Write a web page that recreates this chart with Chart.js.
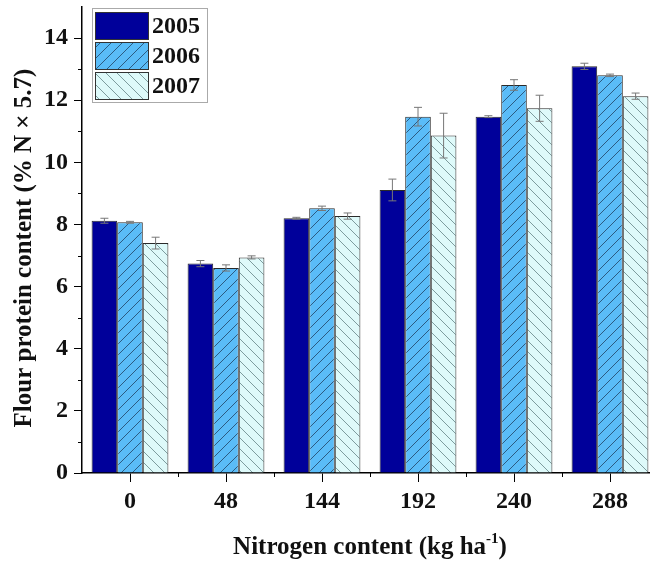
<!DOCTYPE html>
<html>
<head>
<meta charset="utf-8">
<script src="https://cdn.jsdelivr.net/npm/chart.js@4.4.1/dist/chart.umd.min.js"></script>
<style>
    html, body { margin: 0; padding: 0; background: #fff; overflow: hidden; }
    #wrap { width: 660px; height: 561px; }
</style>
</head>
<body>
<div id="wrap"><canvas id="protein_chart"></canvas></div>
<script>
var nitrogenLevels = ['0', '48', '144', '192', '240', '288']
var yearLabels = ['2005', '2006', '2007']

var protein2005 = [8.12, 6.74, 8.20, 9.11, 11.47, 13.09]
var protein2006 = [8.07, 6.60, 8.52, 11.47, 12.49, 12.80]
var protein2007 = [7.40, 6.94, 8.27, 10.86, 11.74, 12.13]

var err2005 = [0.08, 0.10, 0.03, 0.35, 0.03, 0.10]
var err2006 = [0.03, 0.10, 0.07, 0.30, 0.17, 0.04]
var err2007 = [0.19, 0.05, 0.10, 0.72, 0.42, 0.10]

var yTicks = [0, 2, 4, 6, 8, 10, 12, 14]

var serif = '"Liberation Serif", "Times New Roman", serif'
var ctx = document.getElementById('protein_chart').getContext('2d')

// diagonal hatch tile, dir > 0 draws '/', otherwise '\'
function makeHatch(bg, line, dir) {
    var size = 11
    var c = document.createElement('canvas')
    c.width = size
    c.height = size
    var g = c.getContext('2d')
    g.fillStyle = bg
    g.fillRect(0, 0, size, size)
    g.strokeStyle = line
    g.lineWidth = 1
    g.beginPath()
    if (dir > 0) {
        g.moveTo(-1, size + 1); g.lineTo(size + 1, -1)
        g.moveTo(-1, 1); g.lineTo(1, -1)
        g.moveTo(size - 1, size + 1); g.lineTo(size + 1, size - 1)
    } else {
        g.moveTo(-1, -1); g.lineTo(size + 1, size + 1)
        g.moveTo(size - 1, -1); g.lineTo(size + 1, 1)
        g.moveTo(-1, size - 1); g.lineTo(1, size + 1)
    }
    g.stroke()
    return ctx.createPattern(c, 'repeat')
}

var fill2005 = '#00009a'
var fill2006 = makeHatch('#5abcf8', '#2c5b82', 1)
var fill2007 = makeHatch('#defafa', '#7d9c9e', -1)

var errorBars = {
    id: 'errorBars',
    afterDatasetsDraw: function (chart) {
        var yScale = chart.scales.y
        var g = chart.ctx
        g.save()
        g.strokeStyle = '#777'
        g.lineWidth = 1
        chart.data.datasets.forEach(function (ds, i) {
            var meta = chart.getDatasetMeta(i)
            meta.data.forEach(function (bar, j) {
                var v = ds.data[j]
                var e = ds.errors[j]
                var top = yScale.getPixelForValue(v + e)
                var bot = yScale.getPixelForValue(v - e)
                g.beginPath()
                g.moveTo(bar.x, top); g.lineTo(bar.x, bot)
                g.moveTo(bar.x - 4, top); g.lineTo(bar.x + 4, top)
                g.moveTo(bar.x - 4, bot); g.lineTo(bar.x + 4, bot)
                g.stroke()
            })
        })
        g.restore()
    }
}

// minor ticks and the two axis titles
var axisExtras = {
    id: 'axisExtras',
    afterDraw: function (chart) {
        var area = chart.chartArea
        var yScale = chart.scales.y
        var g = chart.ctx
        g.save()
        g.strokeStyle = '#000'
        g.lineWidth = 1
        g.beginPath()
        for (var v = 1; v < 15; v += 2) {
            var py = Math.round(yScale.getPixelForValue(v)) + 0.5
            g.moveTo(area.left - 4, py); g.lineTo(area.left, py)
        }
        var step = (area.right - area.left) / nitrogenLevels.length
        for (var i = 1; i < nitrogenLevels.length; i++) {
            var px = Math.round(area.left + i * step) + 0.5
            g.moveTo(px, area.bottom); g.lineTo(px, area.bottom + 4)
        }
        g.stroke()

        g.fillStyle = '#111'

        // y title, rotated
        g.save()
        g.translate(25, 248)
        g.rotate(-Math.PI / 2)
        g.font = 'bold 25px ' + serif
        g.textAlign = 'center'
        g.textBaseline = 'middle'
        g.fillText('Flour protein content (% N \u00d7 5.7)', 0, 0)
        g.restore()

        // x title with superscript
        var main = 'Nitrogen content (kg ha'
        var sup = '-1'
        var tail = ')'
        g.textAlign = 'left'
        g.textBaseline = 'alphabetic'
        g.font = 'bold 25px ' + serif
        var w1 = g.measureText(main).width
        var w3 = g.measureText(tail).width
        g.font = 'bold 15px ' + serif
        var w2 = g.measureText(sup).width
        var x0 = (area.left + area.right) / 2 - (w1 + w2 + w3) / 2
        var base = 554
        g.font = 'bold 25px ' + serif
        g.fillText(main, x0, base)
        g.fillText(tail, x0 + w1 + w2, base)
        g.font = 'bold 15px ' + serif
        g.fillText(sup, x0 + w1, base - 11)
        g.restore()
    }
}

var boxLegend = {
    id: 'boxLegend',
    afterDraw: function (chart) {
        var g = chart.ctx
        g.save()
        g.fillStyle = '#fff'
        g.fillRect(92, 8, 115, 94)
        g.strokeStyle = '#aaa'
        g.lineWidth = 1
        g.strokeRect(92.5, 8.5, 115, 94)
        var rows = [12, 42, 72]
        chart.data.datasets.forEach(function (ds, i) {
            var y = rows[i]
            g.fillStyle = ds.backgroundColor
            g.fillRect(95, y, 53, 27)
            g.strokeStyle = '#333'
            g.strokeRect(95.5, y + 0.5, 53, 27)
            g.fillStyle = '#111'
            g.font = 'bold 24px ' + serif
            g.textBaseline = 'middle'
            g.textAlign = 'left'
            g.fillText(ds.label, 152, y + 15)
        })
        g.restore()
    }
}

function makeSet(label, data, errors, fill) {
    return {
        label: label,
        data: data,
        errors: errors,
        backgroundColor: fill,
        borderColor: '#2a2a2a',
        borderWidth: 1,
        borderSkipped: 'bottom',
        categoryPercentage: 0.8,
        barPercentage: 1.0
    }
}

var chart = new Chart(ctx, {
    type: 'bar',
    data: {
        labels: nitrogenLevels,
        datasets: [
            makeSet(yearLabels[0], protein2005, err2005, fill2005),
            makeSet(yearLabels[1], protein2006, err2006, fill2006),
            makeSet(yearLabels[2], protein2007, err2007, fill2007)
        ]
    },
    options: {
        responsive: true,
        maintainAspectRatio: false,
        animation: false,
        layout: { padding: { top: 7, right: 2, left: 0, bottom: 0 } },
        plugins: {
            legend: { display: false },
            tooltip: { enabled: false }
        },
        scales: {
            x: {
                offset: true,
                grid: { display: true, offset: false, drawOnChartArea: false, tickLength: 9, color: '#000', lineWidth: 1 },
                border: { color: '#000', width: 1.5 },
                ticks: { color: '#111', padding: 5, font: { family: serif, weight: 'bold', size: 24 } },
                afterFit: function (scale) {
                    scale.height = 88
                    scale.paddingLeft = 0
                    scale.paddingRight = 0
                }
            },
            y: {
                min: 0,
                max: 15,
                afterBuildTicks: function (scale) {
                    scale.ticks = yTicks.map(function (v) { return { value: v } })
                },
                grid: { display: true, drawOnChartArea: false, tickLength: 8, color: '#000', lineWidth: 1 },
                border: { color: '#000', width: 1.5 },
                ticks: { color: '#111', padding: 6, font: { family: serif, weight: 'bold', size: 24 } },
                afterFit: function (scale) {
                    scale.width = 82
                    scale.paddingTop = 0
                    scale.paddingBottom = 0
                }
            }
        }
    },
    plugins: [errorBars, axisExtras, boxLegend]
})
</script>
</body>
</html>
